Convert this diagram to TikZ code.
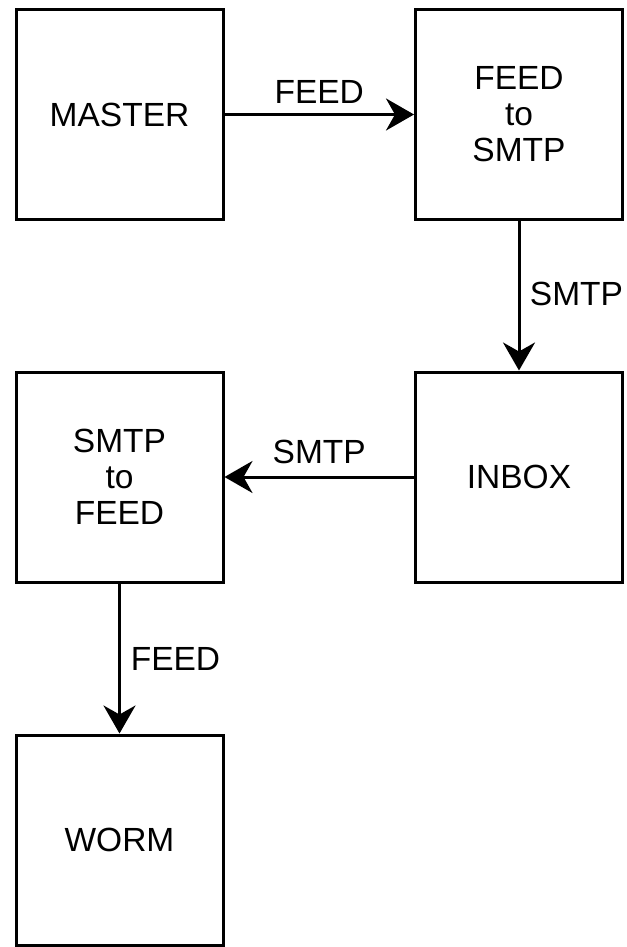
\documentclass[tikz,border=0pt]{standalone}
\usepackage{fontspec}
\setmainfont{Liberation Sans}
\usetikzlibrary{arrows.meta}

\begin{document}
\begin{tikzpicture}[
  x=1pt, y=-1pt,
  font=\fontsize{33.5}{36}\selectfont,
  stagebox/.style={draw=black, line width=3pt, fill=white,
    minimum width=207pt, minimum height=210pt, inner sep=0pt,
    align=center},
  flow/.style={draw=black, line width=3pt,
    -{Stealth[length=28pt, width=32pt, inset=9pt]}},
  flowlabel/.style={inner sep=0pt}
]
  % page frame
  \useasboundingbox (0,0) rectangle (626,947);

  % processing stages
  \node[stagebox] (master) at (119.5,114.5) {MASTER};
  \node[stagebox] (f2s)    at (519,114.5)   {FEED\\to\\SMTP};
  \node[stagebox] (inbox)  at (519,477)     {INBOX};
  \node[stagebox] (s2f)    at (119.5,477)   {SMTP\\to\\FEED};
  \node[stagebox] (worm)   at (119.5,840)   {WORM};

  % message flow between stages
  \draw[flow] (master) -- (f2s)
    node[flowlabel, midway, yshift=23pt] {FEED};
  \draw[flow] (f2s) -- (inbox)
    node[flowlabel, midway, xshift=57.5pt, yshift=2pt] {SMTP};
  \draw[flow] (inbox) -- (s2f)
    node[flowlabel, midway, yshift=25pt] {SMTP};
  \draw[flow] (s2f) -- (worm)
    node[flowlabel, midway, xshift=56pt] {FEED};
\end{tikzpicture}
\end{document}
